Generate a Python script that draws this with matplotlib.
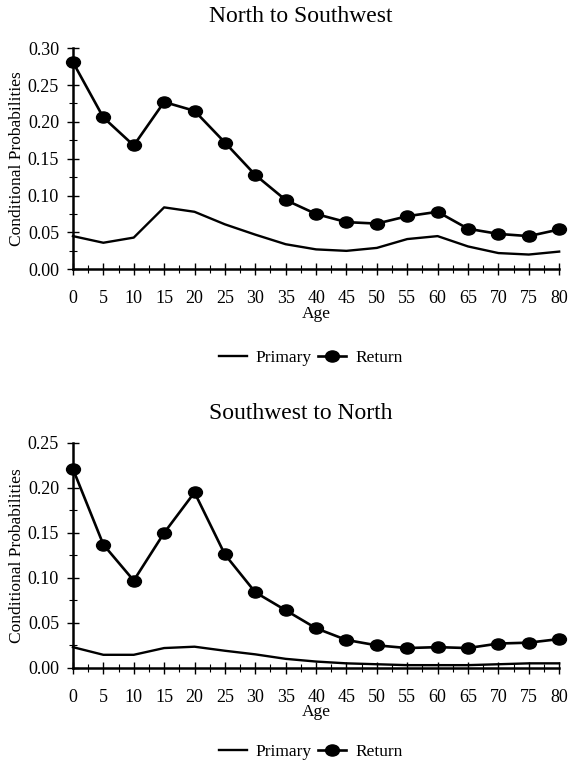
import matplotlib
matplotlib.use("Agg")
import matplotlib.pyplot as plt
from matplotlib.path import Path
from matplotlib.ticker import MultipleLocator, FormatStrFormatter

plt.rcParams['font.family'] = ['Liberation Serif', 'DejaVu Serif']

# ================================
# Data
# ================================
ages = [0, 5, 10, 15, 20, 25, 30, 35, 40, 45, 50, 55, 60, 65, 70, 75, 80]

# North to Southwest
ns_primary = [0.045, 0.036, 0.043, 0.084, 0.078, 0.061, 0.047, 0.034, 0.027, 0.025,
              0.029, 0.041, 0.045, 0.031, 0.022, 0.020, 0.024]
ns_return = [0.281, 0.206, 0.168, 0.227, 0.215, 0.172, 0.128, 0.094, 0.075, 0.064,
             0.062, 0.072, 0.078, 0.055, 0.048, 0.045, 0.054]

# Southwest to North
sn_primary = [0.023, 0.0145, 0.0145, 0.022, 0.0235, 0.019, 0.015, 0.010, 0.007, 0.005,
              0.004, 0.003, 0.003, 0.003, 0.004, 0.005, 0.005]
sn_return = [0.221, 0.137, 0.097, 0.150, 0.195, 0.126, 0.084, 0.064, 0.044, 0.031,
             0.025, 0.022, 0.023, 0.022, 0.027, 0.028, 0.032]

titles = ["North to Southwest", "Southwest to North"]
ymax = [0.30, 0.25]

# slightly wide dot, like the scanned original
circ = Path.unit_circle()
ellipse = Path(circ.vertices * [1.25, 1.0], circ.codes)

fig = plt.figure(figsize=(5.7, 7.65), dpi=100)
ax1 = fig.add_axes([0.128, 0.648, 0.853, 0.289])
ax2 = fig.add_axes([0.128, 0.127, 0.853, 0.294])

panels = [(ax1, ns_primary, ns_return), (ax2, sn_primary, sn_return)]
title_y = [0.978, 0.459]
legend_y = [0.532, 0.017]

for i, (ax, prim, ret) in enumerate(panels):
    ax.plot(ages, prim, color='black', lw=1.7, label='Primary')
    ax.plot(ages, ret, color='black', lw=1.9, marker=ellipse, markersize=10, label='Return')

    ax.set_xlim(0, 80)
    ax.set_ylim(0, ymax[i])
    ax.xaxis.set_major_locator(MultipleLocator(5))
    ax.xaxis.set_minor_locator(MultipleLocator(2.5))
    ax.yaxis.set_major_locator(MultipleLocator(0.05))
    ax.yaxis.set_minor_locator(MultipleLocator(0.025))
    ax.yaxis.set_major_formatter(FormatStrFormatter('%.2f'))
    ax.tick_params(which='major', direction='inout', length=8, width=1.0, labelsize=13)
    ax.tick_params(axis='x', which='major', pad=11)
    ax.tick_params(axis='y', which='major', pad=6)
    ax.tick_params(which='minor', direction='inout', length=6, width=0.8)
    for s in ['top', 'right']:
        ax.spines[s].set_visible(False)
    for s in ['left', 'bottom']:
        ax.spines[s].set_linewidth(1.8)
    for line in ax.lines:
        line.set_clip_on(False)

    ax.set_xlabel('Age', fontsize=12.5, labelpad=-1)
    ax.set_ylabel('Conditional Probabilities', fontsize=12.5)
    ax.yaxis.set_label_coords(-0.099, 0.5)

    fig.text(0.527, title_y[i], titles[i], ha='center', va='center', fontsize=17)
    fig.legend(handles=ax.lines, labels=['Primary', 'Return'], loc='center',
               bbox_to_anchor=(0.545, legend_y[i]), ncol=2, frameon=False,
               fontsize=12.5, handlelength=1.6, columnspacing=0.4, handletextpad=0.5)

fig.savefig('out.png', dpi=100)
